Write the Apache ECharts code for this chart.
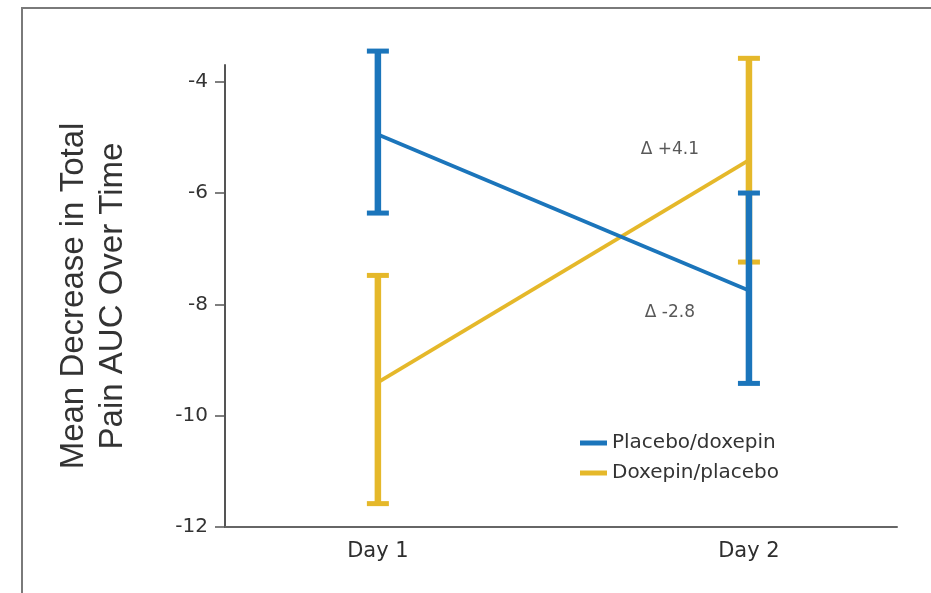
<!DOCTYPE html>
<html>
<head>
<meta charset="utf-8">
<script src="https://cdn.jsdelivr.net/npm/echarts@6/dist/echarts.min.js"></script>
<style>
html,body{margin:0;padding:0;background:#fff;}
#chart{width:931px;height:593px;}
</style>
</head>
<body>
<div id="chart"></div>
<script>
// ---- data ----
const days = ['Day 1', 'Day 2'];
const dayPos = [1, 2];
const seriesNames = ['Placebo/doxepin', 'Doxepin/placebo'];
const placeboDoxepinMean = [-4.95, -7.75];
const placeboDoxepinUpper = [-3.45, -6.0];
const placeboDoxepinLower = [-6.36, -9.42];
const doxepinPlaceboMean = [-9.40, -5.41];
const doxepinPlaceboUpper = [-7.48, -3.58];
const doxepinPlaceboLower = [-11.58, -7.24];
const yTicks = [-12, -10, -8, -6, -4];
const annotationText = ['\u0394 +4.1', '\u0394 -2.8'];
const annotationX = [1.787, 1.787];
const annotationY = [-5.22, -8.14];

const BLUE = '#1b75bb';
const YELLOW = '#e5b82a';

function errorBarRenderer(color) {
  return function (params, api) {
    const x = api.value(0), lo = api.value(1), hi = api.value(2);
    const pHi = api.coord([x, hi]);
    const pLo = api.coord([x, lo]);
    const cap = 11;
    return {
      type: 'group',
      children: [
        {type: 'line', shape: {x1: pHi[0], y1: pHi[1], x2: pLo[0], y2: pLo[1]}, style: {stroke: color, lineWidth: 6.5}},
        {type: 'line', shape: {x1: pHi[0] - cap, y1: pHi[1], x2: pHi[0] + cap, y2: pHi[1]}, style: {stroke: color, lineWidth: 5}},
        {type: 'line', shape: {x1: pLo[0] - cap, y1: pLo[1], x2: pLo[0] + cap, y2: pLo[1]}, style: {stroke: color, lineWidth: 5}}
      ]
    };
  };
}

const chart = echarts.init(document.getElementById('chart'), null, {renderer: 'canvas'});
const option = {
  animation: false,
  backgroundColor: '#fff',
  grid: {left: 225, right: 34, top: 65, bottom: 66},
  graphic: [{
    type: 'rect',
    shape: {x: 22, y: 8, width: 1200, height: 900},
    style: {fill: 'none', stroke: '#7a7a7a', lineWidth: 2},
    silent: true, z: -10
  }],
  legend: {
    orient: 'vertical',
    left: 580, top: 433, padding: 0,
    icon: 'rect', itemWidth: 27, itemHeight: 5, itemGap: 10,
    data: seriesNames,
    textStyle: {fontFamily: 'DejaVu Sans', fontSize: 20, color: '#333', lineHeight: 20}
  },
  xAxis: {
    type: 'value', min: 0.588, max: 2.399,
    axisLine: {show: true, lineStyle: {color: '#666', width: 2}},
    axisTick: {show: false},
    splitLine: {show: false},
    axisLabel: {
      customValues: dayPos,
      formatter: function (v) { return days[Math.round(v) - 1]; },
      fontFamily: 'DejaVu Sans', fontSize: 21, color: '#2e2e2e', margin: 14
    }
  },
  yAxis: {
    type: 'value', min: -12, max: -3.7,
    name: 'Mean Decrease in Total\nPain AUC Over Time',
    nameLocation: 'middle', nameGap: 93,
    nameTextStyle: {fontFamily: 'Liberation Sans', fontSize: 33, color: '#333', lineHeight: 39},
    axisLine: {show: true, lineStyle: {color: '#555', width: 2}},
    axisTick: {show: true, inside: false, length: 10, customValues: yTicks, lineStyle: {color: '#555', width: 1.5}},
    splitLine: {show: false},
    axisLabel: {customValues: yTicks, fontFamily: 'DejaVu Sans', fontSize: 20, color: '#333', margin: 17}
  },
  series: [
    {
      name: 'Doxepin/placebo bars', type: 'custom', clip: false,
      renderItem: errorBarRenderer(YELLOW),
      encode: {x: 0, y: [1, 2]},
      data: dayPos.map((d, i) => [d, doxepinPlaceboLower[i], doxepinPlaceboUpper[i]]),
      z: 2
    },
    {
      name: seriesNames[1], type: 'line', color: YELLOW,
      symbol: 'none', lineStyle: {width: 3.8, color: YELLOW},
      data: dayPos.map((d, i) => [d, doxepinPlaceboMean[i]]),
      z: 3
    },
    {
      name: 'Placebo/doxepin bars', type: 'custom', clip: false,
      renderItem: errorBarRenderer(BLUE),
      encode: {x: 0, y: [1, 2]},
      data: dayPos.map((d, i) => [d, placeboDoxepinLower[i], placeboDoxepinUpper[i]]),
      z: 4
    },
    {
      name: seriesNames[0], type: 'line', color: BLUE,
      symbol: 'none', lineStyle: {width: 3.8, color: BLUE},
      data: dayPos.map((d, i) => [d, placeboDoxepinMean[i]]),
      z: 5
    },
    {
      name: 'annotations', type: 'scatter', symbolSize: 0, silent: true,
      label: {
        show: true, position: 'inside',
        formatter: function (p) { return annotationText[p.dataIndex]; },
        fontFamily: 'DejaVu Sans', fontSize: 17, color: '#2e2e2e'
      },
      data: annotationX.map((x, i) => [x, annotationY[i]]),
      z: 6
    }
  ]
};
chart.setOption(option);
</script>
</body>
</html>
